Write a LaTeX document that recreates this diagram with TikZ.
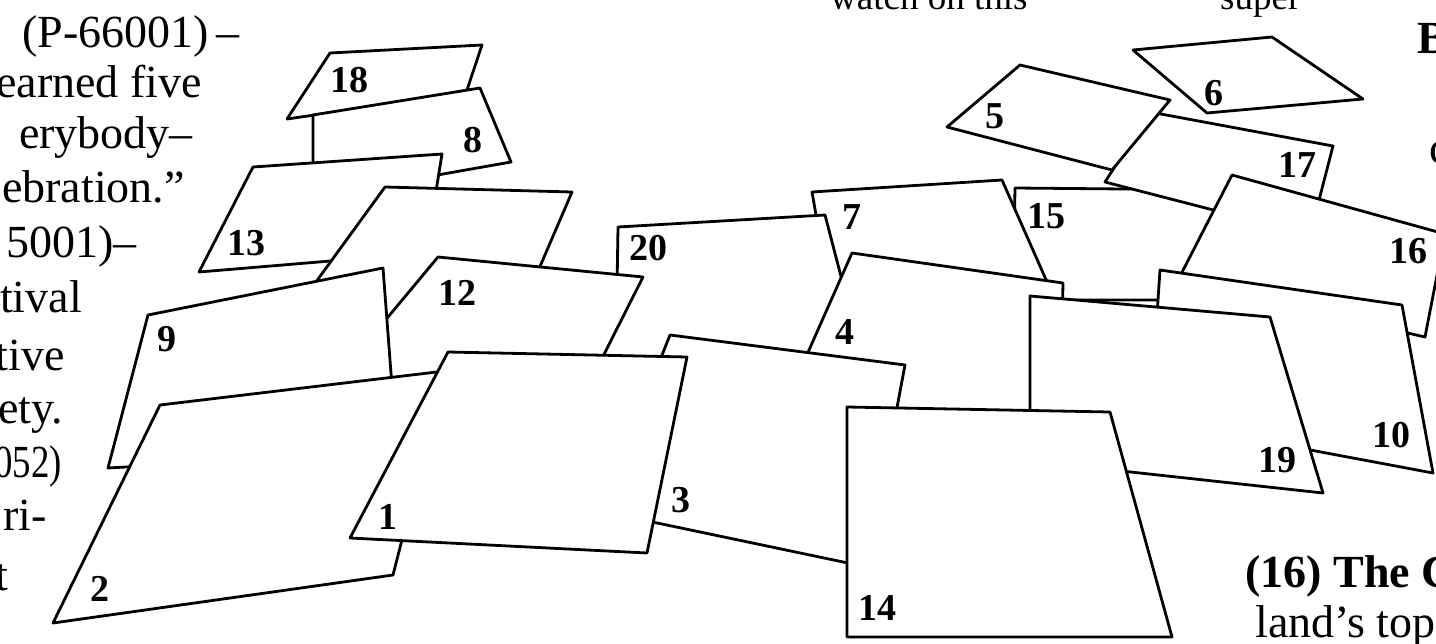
\documentclass[tikz,border=0pt]{standalone}
\usepackage{fontspec}
\setmainfont{Liberation Serif}
\begin{document}
\begin{tikzpicture}[x=1pt,y=-1pt,
  card/.style={draw=black,fill=white,line width=2.8pt,line join=round},
  lbl/.style={font=\fontsize{38}{38}\selectfont\bfseries,inner sep=0pt},
  body/.style={font=\fontsize{46}{46}\selectfont,inner sep=0pt,anchor=base east},
  bodyw/.style={font=\fontsize{46}{46}\selectfont,inner sep=0pt,anchor=base west},
  bodyb/.style={font=\fontsize{46}{46}\selectfont\bfseries,inner sep=0pt,anchor=base west},
  toptext/.style={font=\fontsize{37}{37}\selectfont,inner sep=0pt,anchor=base west},
]
\useasboundingbox (0,0) rectangle (1436,643);
\clip (0,0) rectangle (1436,643);
\fill[white] (0,0) rectangle (1436,643);

% page text fragments
\node[toptext] (top1) at (830,9) {watch on this};
\node[toptext] (top2) at (1220,9) {super};
\node[body] (t1) at (240,47) {(P-66001)\,–};
\node[body] (t2) at (202,97) {earned five};
\node[body] (t3) at (193,148) {erybody–};
\node[body] (t4) at (185,202) {ebration.”};
\node[body] (t5) at (137,257) {5001)–};
\node[body] (t6) at (82,312) {tival};
\node[body] (t7) at (65,370) {tive};
\node[body] (t8) at (63,423) {ety.};
\node[body] (t9) at (62,477) {\scalebox{0.8}[1]{052)}};
\node[body] (t10) at (47,530) {ri-};
\node[body] (t11) at (8,590) {t};
\node[bodyb] (r1) at (1417,53) {B};
\node[bodyw] (r1b) at (1429,163) {c};
\node[bodyb] (r2) at (1245,587) {(16) The C};
\node[bodyw] (r3) at (1255,637) {land’s top};

% cards, back to front
\draw[card] (287,119) -- (330,53) -- (482,45) -- (466,93) -- cycle;          % 18
\draw[card] (313,115) -- (480,88) -- (511,162) -- (313,197) -- cycle;        % 8
\draw[card] (199,272) -- (253,167) -- (442,154) -- (426,253) -- cycle;       % 13
\draw[card] (385,187) -- (572,192) -- (517,320) -- (281,330) -- cycle;       % 11
\draw[card] (1015,188) -- (1235,190) -- (1220,300) -- (1013,300) -- cycle;   % 15
\draw[card] (812,192) -- (1002,180) -- (1055,300) -- (830,295) -- cycle;     % 7
\draw[card] (618,227) -- (825,215) -- (868,380) -- (595,380) -- (617,290) -- cycle; % 20
\draw[card] (438,257) -- (643,277) -- (581,400) -- (319,400) -- cycle;       % 12
\draw[card] (148,315) -- (383,268) -- (397,452) -- (108,468) -- cycle;       % 9
\draw[card] (160,405) -- (445,371) -- (393,575) -- (53,623) -- cycle;        % 2
\draw[card] (852,253) -- (1063,283) -- (1060,430) -- (778,420) -- cycle;     % 4
\draw[card] (670,335) -- (905,365) -- (867,567) -- (600,511) -- cycle;       % 3
\draw[card] (448,352) -- (687,357) -- (647,553) -- (350,538) -- cycle;       % 1
\draw[card] (1105,182) -- (1150,112) -- (1333,146) -- (1310,235) -- cycle;   % 17
\draw[card] (947,127) -- (1020,65) -- (1170,100) -- (1112,170) -- cycle;     % 5
\draw[card] (1133,50) -- (1272,37) -- (1363,99) -- (1207,113) -- cycle;      % 6
\draw[card] (1232,175) -- (1445,234) -- (1425,337) -- (1178,280) -- cycle;   % 16
\draw[card] (1160,270) -- (1402,305) -- (1433,473) -- (1150,420) -- cycle;   % 10
\draw[card] (1030,296) -- (1270,317) -- (1323,493) -- (1030,461) -- cycle;   % 19
\draw[card] (847,407) -- (1110,412) -- (1172,637) -- (847,637) -- cycle;     % 14

% labels
\node[lbl] (n18) at (349,80) {18};
\node[lbl] (n8) at (473,140) {8};
\node[lbl] (n13) at (246,243) {13};
\node[lbl] (n9) at (167,339) {9};
\node[lbl] (n2) at (100,589) {2};
\node[lbl] (n12) at (457,293) {12};
\node[lbl] (n1) at (388,517) {1};
\node[lbl] (n3) at (681,500) {3};
\node[lbl] (n20) at (648,248) {20};
\node[lbl] (n7) at (852,217) {7};
\node[lbl] (n15) at (1046,216) {15};
\node[lbl] (n4) at (845,332) {4};
\node[lbl] (n14) at (877,608) {14};
\node[lbl] (n5) at (995,116) {5};
\node[lbl] (n6) at (1214,93) {6};
\node[lbl] (n17) at (1297,165) {17};
\node[lbl] (n16) at (1408,251) {16};
\node[lbl] (n19) at (1277,460) {19};
\node[lbl] (n10) at (1391,435) {10};
\end{tikzpicture}
\end{document}
